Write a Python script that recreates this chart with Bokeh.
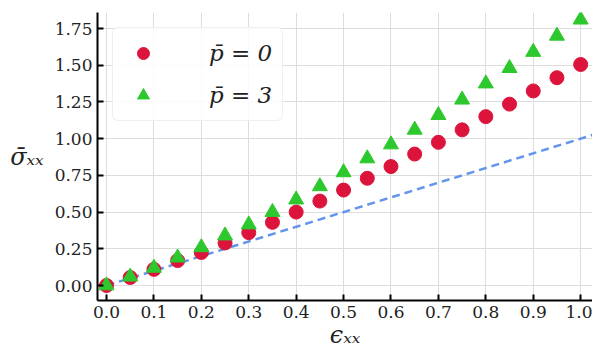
from bokeh.plotting import figure
from bokeh.models import FixedTicker, NumeralTickFormatter, Range1d, Legend, LegendItem
from bokeh.embed import file_html
from bokeh.resources import INLINE

eps = [0.0, 0.05, 0.1, 0.15, 0.2, 0.25, 0.3, 0.35, 0.4, 0.45, 0.5,
       0.55, 0.6, 0.65, 0.7, 0.75, 0.8, 0.85, 0.9, 0.95, 1.0]
sig_p0 = [0.0, 0.055, 0.11, 0.17, 0.225, 0.29, 0.36, 0.43, 0.50, 0.575, 0.65,
          0.73, 0.81, 0.895, 0.975, 1.06, 1.15, 1.235, 1.325, 1.415, 1.505]
sig_p3 = [0.0, 0.06, 0.12, 0.19, 0.26, 0.34, 0.415, 0.50, 0.585, 0.675, 0.77,
          0.865, 0.96, 1.06, 1.16, 1.265, 1.375, 1.48, 1.59, 1.70, 1.81]
ref_x = [0.0, 1.03]
ref_y = [0.0, 1.03]
x_ticks = [0.0, 0.1, 0.2, 0.3, 0.4, 0.5, 0.6, 0.7, 0.8, 0.9, 1.0]
y_ticks = [0.0, 0.25, 0.5, 0.75, 1.0, 1.25, 1.5, 1.75]

FONT = "DejaVu Serif"

p = figure(frame_width=495, frame_height=288, output_backend="svg", toolbar_location=None,
           x_range=Range1d(-0.019, 1.025), y_range=Range1d(-0.102, 1.859),
           min_border_left=97, min_border_right=0, min_border_top=12, min_border_bottom=40)
p.outline_line_color = None
p.background_fill_color = "white"

p.line(ref_x, ref_y, line_color="#6495ED", line_width=2.5, line_dash="8 5")
r0 = p.scatter(eps, sig_p0, marker="circle", size=14, fill_color="#DC143C", line_color="#DC143C")
r3 = p.scatter(eps, sig_p3, marker="triangle", size=15, fill_color="#2DC82D", line_color="#2DC82D")

for ax in (p.xaxis[0], p.yaxis[0]):
    ax.axis_line_width = 2
    ax.axis_line_color = "black"
    ax.major_tick_in = 6
    ax.major_tick_out = 0
    ax.major_tick_line_width = 2
    ax.minor_tick_line_color = None
    ax.major_label_text_font = FONT
    ax.major_label_text_font_size = "17px"
    ax.major_label_text_color = "#222222"
    ax.axis_label_text_font = FONT
    ax.axis_label_text_font_style = "italic"
    ax.axis_label_text_font_size = "24px"
    ax.axis_label_text_color = "#222222"

p.xaxis.ticker = FixedTicker(ticks=x_ticks)
p.yaxis.ticker = FixedTicker(ticks=y_ticks)
p.xaxis.formatter = NumeralTickFormatter(format="0.0")
p.yaxis.formatter = NumeralTickFormatter(format="0.00")
p.xaxis.axis_label = "ϵₓₓ"
p.yaxis.axis_label = "σ̄ₓₓ"
p.yaxis.axis_label_orientation = "horizontal"
p.xaxis.major_label_standoff = 5
p.xaxis.axis_label_standoff = 0
p.yaxis.axis_label_standoff = 8

p.grid.grid_line_color = "#dddddd"
p.grid.grid_line_width = 1

legend = Legend(items=[LegendItem(label="p̄ = 0", renderers=[r0]),
                       LegendItem(label="p̄ = 3", renderers=[r3])],
                location="top_left", margin=15, padding=10,
                glyph_width=40, glyph_height=30, label_height=30,
                label_standoff=46, spacing=12,
                label_text_font=FONT, label_text_font_style="italic",
                label_text_font_size="23px", label_text_color="#222222",
                border_line_color="#e0e0e0", border_line_width=1, border_radius=6,
                background_fill_alpha=0.85)
p.add_layout(legend)

open("out.html", "w").write(file_html(p, INLINE))
